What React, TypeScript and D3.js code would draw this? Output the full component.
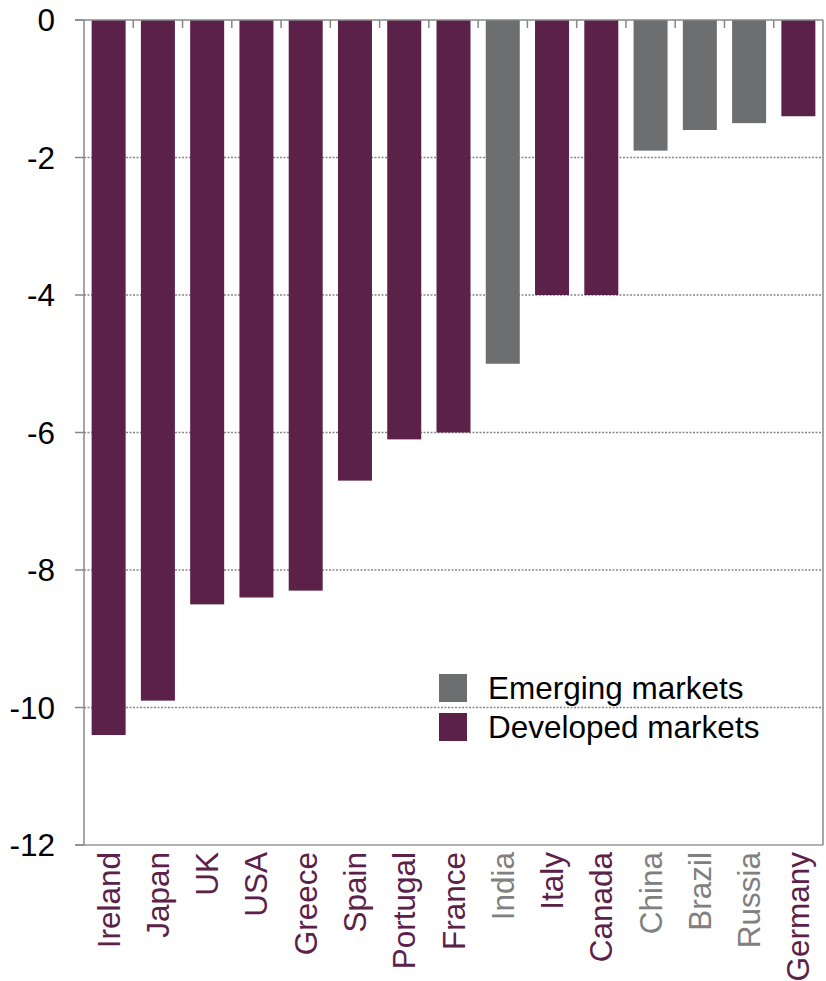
import React from "react";
import * as d3 from "d3";

const countries = ["Ireland","Japan","UK","USA","Greece","Spain","Portugal","France","India","Italy","Canada","China","Brazil","Russia","Germany"];
const values = [-10.4,-9.9,-8.5,-8.4,-8.3,-6.7,-6.1,-6.0,-5.0,-4.0,-4.0,-1.9,-1.6,-1.5,-1.4];
const groups = ["D","D","D","D","D","D","D","D","E","D","D","E","E","E","D"];
const yTicks = [0,-2,-4,-6,-8,-10,-12];
const legendItems = [{ key: "E", label: "Emerging markets" }, { key: "D", label: "Developed markets" }];

const barColor: Record<string,string> = { D: "#5c2149", E: "#6d6e70" };
const labelColor: Record<string,string> = { D: "#5c2149", E: "#808080" };

export default function App() {
  const W = 826, H = 981;
  const left = 84, right = 823, top = 20, bottom = 845;
  const x = d3.scaleBand<string>().domain(countries).range([left, right]).paddingInner(0.31).paddingOuter(0.155);
  const y = d3.scaleLinear().domain([0, -12]).range([top, bottom]);
  const step = x.step();
  const font = "Liberation Sans, Arial, sans-serif";
  const fs = 31.5;
  return (
    <svg width={W} height={H} style={{ position: "absolute", left: 0, top: 0 }}>
      {yTicks.filter(t => t !== 0 && t !== -12).map(t => (
        <line key={t} x1={left} x2={right} y1={y(t)} y2={y(t)} stroke="#888" strokeWidth={1.5} strokeDasharray="2,1.5" />
      ))}
      {countries.map((c, i) => (
        <rect key={c} x={x(c)} y={y(0)} width={x.bandwidth()} height={y(values[i]) - y(0)} fill={barColor[groups[i]]} />
      ))}
      <line x1={left} x2={left} y1={top} y2={bottom} stroke="#888" strokeWidth={1.5} />
      <line x1={right} x2={right} y1={top} y2={bottom} stroke="#888" strokeWidth={1.5} />
      <line x1={left - 9} x2={right} y1={y(0)} y2={y(0)} stroke="#888" strokeWidth={1.5} />
      <line x1={left - 9} x2={right} y1={y(-12)} y2={y(-12)} stroke="#999" strokeWidth={1.5} />
      {countries.slice(1).map((c) => (
        <line key={c} x1={(x(c) as number) - (step - x.bandwidth()) / 2} x2={(x(c) as number) - (step - x.bandwidth()) / 2} y1={top} y2={top + 8} stroke="#888" strokeWidth={1.5} />
      ))}
      {yTicks.map(t => (
        <g key={t}>
          <line x1={left - 9} x2={left} y1={y(t)} y2={y(t)} stroke="#888" strokeWidth={1.5} />
          <text x={left - 29} y={y(t)} dy="0.35em" textAnchor="end" fontFamily={font} fontSize={fs} fill="#000">{t}</text>
        </g>
      ))}
      {countries.map((c, i) => {
        const cx = (x(c) as number) + x.bandwidth() / 2;
        return (
          <text key={c} transform={`translate(${cx},${bottom + 7}) rotate(-90)`} textAnchor="end" dy="0.35em" fontFamily={font} fontSize={fs} fill={labelColor[groups[i]]}>{c}</text>
        );
      })}
      {legendItems.map((it, i) => (
        <g key={it.key} transform={`translate(439,${674 + i * 39})`}>
          <rect width={28} height={28} fill={barColor[it.key]} />
          <text x={49} y={14} dy="0.35em" fontFamily={font} fontSize={fs} fill="#000">{it.label}</text>
        </g>
      ))}
    </svg>
  );
}
